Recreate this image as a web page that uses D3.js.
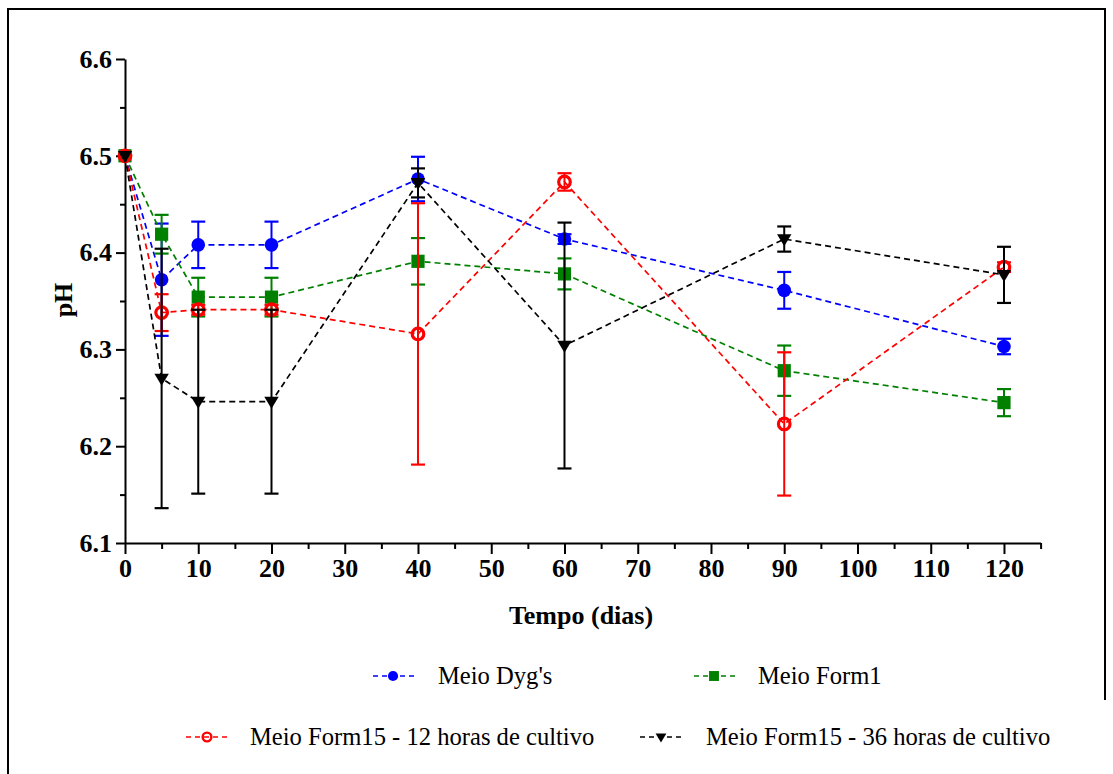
<!DOCTYPE html>
<html>
<head>
<meta charset="utf-8">
<script src="https://cdn.jsdelivr.net/npm/d3@7"></script>
<style>
  html, body { margin: 0; padding: 0; background: #fff; }
  svg { display: block; }
  text { font-family: "Liberation Serif", "Times New Roman", serif; fill: #000; }
</style>
</head>
<body>
<svg id="chart" width="1113" height="774"></svg>
<script>
// Sampling days
const days = [0, 5, 10, 20, 40, 60, 90, 120];

// pH means and error (± SD) for each medium
const dygMean   = [6.500, 6.372, 6.408, 6.408, 6.476, 6.414, 6.361, 6.303];
const dygErr    = [0, 0.058, 0.024, 0.024, 0.023, 0.005, 0.019, 0.008];
const form1Mean = [6.500, 6.419, 6.354, 6.354, 6.391, 6.378, 6.278, 6.245];
const form1Err  = [0, 0.020, 0.020, 0.020, 0.024, 0.016, 0.026, 0.014];
const f12Mean   = [6.500, 6.338, 6.341, 6.341, 6.316, 6.473, 6.223, 6.385];
const f12Err    = [0, 0.019, 0.005, 0.005, 0.135, 0.009, 0.074, 0.005];
const f36Mean   = [6.500, 6.270, 6.246, 6.246, 6.472, 6.304, 6.414, 6.377];
const f36Err    = [0, 0.134, 0.095, 0.095, 0.015, 0.127, 0.013, 0.029];

// Axis ticks
const xTicks = [0, 10, 20, 30, 40, 50, 60, 70, 80, 90, 100, 110, 120];
const xMinor = [5, 15, 25, 35, 45, 55, 65, 75, 85, 95, 105, 115, 125];
const yTicks = [6.1, 6.2, 6.3, 6.4, 6.5, 6.6];
const yMinor = [6.15, 6.25, 6.35, 6.45, 6.55];

const seriesNames = ["Meio Dyg's", "Meio Form1", "Meio Form15 - 12 horas de cultivo", "Meio Form15 - 36 horas de cultivo"];

const series = [
  { name: seriesNames[0], mean: dygMean,   err: dygErr,   color: "#0000ff", shape: "circle" },
  { name: seriesNames[1], mean: form1Mean, err: form1Err, color: "#008000", shape: "square" },
  { name: seriesNames[2], mean: f12Mean,   err: f12Err,   color: "#ff0000", shape: "ring" },
  { name: seriesNames[3], mean: f36Mean,   err: f36Err,   color: "#000000", shape: "triangle" }
];

const svg = d3.select("#chart");

// Frame around the figure
svg.append("path")
  .attr("d", "M8,774 L8,9 L1105,9 L1105,700")
  .attr("fill", "none").attr("stroke", "#000").attr("stroke-width", 2);

const x = d3.scaleLinear().domain([0, 125]).range([125, 1040.6]);
const y = d3.scaleLinear().domain([6.1, 6.6]).range([543, 59]);

// Y axis
svg.append("g").attr("transform", "translate(125,0)")
  .call(d3.axisLeft(y).tickValues(yTicks).tickFormat(d3.format(".1f")).tickSize(9).tickSizeOuter(0).tickPadding(4));
svg.append("g").attr("transform", "translate(125,0)")
  .call(d3.axisLeft(y).tickValues(yMinor).tickFormat("").tickSize(5).tickSizeOuter(0))
  .select(".domain").remove();

// X axis
svg.append("g").attr("transform", "translate(0,543)")
  .call(d3.axisBottom(x).tickValues(xTicks).tickFormat(d3.format("d")).tickSize(11).tickSizeOuter(0).tickPadding(5));
svg.append("g").attr("transform", "translate(0,543)")
  .call(d3.axisBottom(x).tickValues(xMinor).tickFormat("").tickSize(6).tickSizeOuter(0))
  .select(".domain").remove();

svg.selectAll(".domain, .tick line").attr("stroke", "#000").attr("stroke-width", 2);
svg.selectAll(".tick text")
  .attr("font-family", "'Liberation Serif', 'Times New Roman', serif")
  .attr("font-size", 26).attr("font-weight", "bold").attr("fill", "#000");

// Axis titles
svg.append("text").attr("x", 581).attr("y", 624).attr("text-anchor", "middle")
  .attr("font-size", 26).attr("font-weight", "bold").text("Tempo (dias)");
svg.append("text").attr("transform", "translate(72,300) rotate(-90)").attr("text-anchor", "middle")
  .attr("font-size", 26).attr("font-weight", "bold").text("pH");

// Marker drawing
function drawMarker(g, shape, color, cx, cy, s) {
  if (shape === "circle") {
    g.append("circle").attr("cx", cx).attr("cy", cy).attr("r", 6.8 * s).attr("fill", color);
  } else if (shape === "square") {
    const h = 6.6 * s;
    g.append("rect").attr("x", cx - h).attr("y", cy - h).attr("width", 2 * h).attr("height", 2 * h).attr("fill", color);
  } else if (shape === "ring") {
    g.append("circle").attr("cx", cx).attr("cy", cy).attr("r", 5.8 * s).attr("fill", "none")
      .attr("stroke", color).attr("stroke-width", 3.2 * Math.max(s, 0.75));
  } else if (shape === "triangle") {
    const w = 7.2 * s, h = 12 * s;
    g.append("path")
      .attr("d", `M${cx - w},${cy - h * 0.4} L${cx + w},${cy - h * 0.4} L${cx},${cy + h * 0.6} Z`)
      .attr("fill", color);
  }
}

const line = d3.line().x(d => x(d.day)).y(d => y(d.v));

series.forEach(s => {
  const g = svg.append("g");
  const pts = days.map((d, i) => ({ day: d, v: s.mean[i], e: s.err[i] }));
  // error bars
  pts.filter(p => p.e > 0).forEach(p => {
    const cx = x(p.day), y1 = y(p.v + p.e), y2 = y(p.v - p.e);
    g.append("line").attr("x1", cx).attr("x2", cx).attr("y1", y1).attr("y2", y2)
      .attr("stroke", s.color).attr("stroke-width", 2);
    [y1, y2].forEach(yy => g.append("line").attr("x1", cx - 7).attr("x2", cx + 7).attr("y1", yy).attr("y2", yy)
      .attr("stroke", s.color).attr("stroke-width", 2.2));
  });
  // connecting dashed line
  g.append("path").datum(pts).attr("d", line).attr("fill", "none")
    .attr("stroke", s.color).attr("stroke-width", 1.7).attr("stroke-dasharray", "6,4");
  // symbols
  pts.forEach(p => drawMarker(g, s.shape, s.color, x(p.day), y(p.v), 1));
});

// Legend
const legendItems = [
  { x1: 373, x2: 415, mx: 393, ly: 676, tx: 438 },
  { x1: 694, x2: 736, mx: 714, ly: 676, tx: 758 },
  { x1: 186, x2: 228, mx: 207, ly: 737, tx: 250 },
  { x1: 640, x2: 683, mx: 661, ly: 737, tx: 706 }
];
series.forEach((s, i) => {
  const L = legendItems[i];
  const g = svg.append("g");
  g.append("line").attr("x1", L.x1).attr("x2", L.x2).attr("y1", L.ly).attr("y2", L.ly)
    .attr("stroke", s.color).attr("stroke-width", 1.6).attr("stroke-dasharray", "5,4");
  drawMarker(g, s.shape, s.color, L.mx, L.ly, 0.75);
  g.append("text").attr("x", L.tx).attr("y", L.ly + 8).attr("font-size", 24.6).text(s.name);
});
</script>
</body>
</html>
